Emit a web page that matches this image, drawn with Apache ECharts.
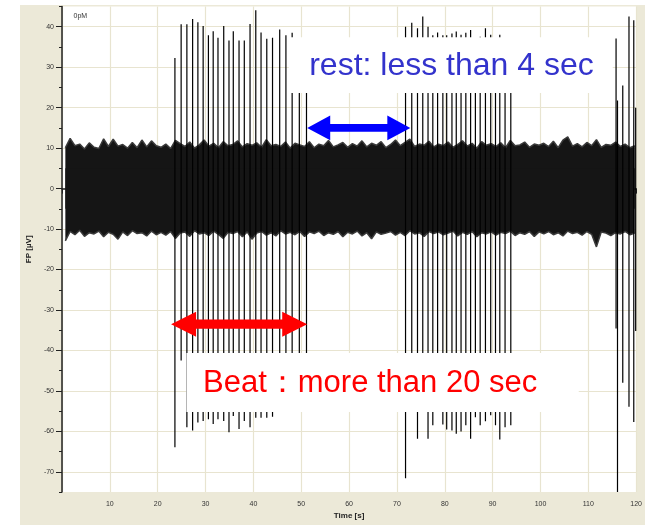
<!DOCTYPE html>
<html>
<head>
<meta charset="utf-8">
<script src="https://cdn.jsdelivr.net/npm/echarts@6/dist/echarts.min.js"></script>
<style>
  html, body { margin: 0; padding: 0; background: #fff; }
  #frame { position: absolute; left: 20px; top: 5px; width: 625px; height: 520px; background: #ece9d8; }
  #chart { position: absolute; left: 0; top: 0; width: 645px; height: 525px; }
</style>
</head>
<body>
<div id="frame"></div>
<div id="chart"></div>
<script>
// axis ticks
const fpTicks = [-70, -60, -50, -40, -30, -20, -10, 0, 10, 20, 30, 40];

// noise band envelope [µV], one reading per second starting at 0.7 s
const noiseStart = 0.7;
const noiseTop = [
  10.1, 12.4, 10.6, 11.0, 9.8, 11.3, 10.2, 9.9, 12.3, 10.4,
  12.2, 10.5, 10.9, 10.0, 11.4, 10.1, 12.0, 10.3, 11.8, 10.6,
  10.2, 11.0, 9.9, 11.9, 11.1, 10.4, 11.5, 10.0, 10.8, 12.0,
  10.5, 11.2, 10.1, 11.6, 10.6, 10.9, 11.8, 10.3, 11.1, 10.7,
  11.3, 10.2, 12.1, 10.6, 10.9, 10.4, 11.5, 10.0, 11.2, 10.8,
  10.4, 11.6, 10.1, 11.0, 10.6, 11.9, 10.3, 10.8, 11.4, 10.2,
  11.1, 10.5, 11.8, 10.3, 11.2, 10.7, 11.6, 10.1, 10.9, 12.0,
  10.6, 11.4, 12.2, 10.4, 11.0, 10.7, 11.7, 10.3, 11.0, 10.6,
  11.5, 10.2, 10.9, 11.8, 10.5, 11.2, 10.0, 11.6, 10.7, 11.1,
  10.4, 11.3, 10.1, 11.9, 10.6, 10.8, 11.5, 10.2, 11.0, 10.7,
  11.2, 10.4, 11.7, 10.1, 12.0, 12.8, 10.5, 11.1, 10.3, 11.4,
  10.6, 12.1, 10.2, 10.9, 10.7, 11.5, 10.4, 11.0, 10.1, 10.6
];
const noiseBottom = [
  -12.9, -10.6, -11.4, -10.3, -11.8, -10.9, -11.2, -10.5, -11.9, -10.8,
  -11.3, -12.5, -10.7, -11.6, -10.4, -11.1, -10.9, -11.7, -10.5, -11.4,
  -10.8, -11.5, -10.6, -12.3, -11.0, -10.7, -11.8, -10.4, -11.2, -10.9,
  -11.6, -10.5, -11.3, -12.3, -10.8, -11.1, -10.6, -11.9, -10.7, -12.5,
  -11.0, -10.6, -11.5, -10.9, -11.7, -10.4, -11.2, -10.8, -11.4, -10.6,
  -11.8, -10.7, -11.1, -10.5, -11.6, -10.9, -11.3, -10.6, -11.9, -10.8,
  -11.2, -10.5, -11.7, -10.9, -12.4, -10.7, -11.3, -11.0, -10.6, -11.5,
  -10.8, -11.6, -10.4, -11.2, -10.9, -11.8, -10.6, -11.1, -10.7, -11.4,
  -11.0, -10.5, -11.7, -10.8, -11.3, -10.6, -11.9, -10.9, -11.2, -10.7,
  -11.5, -10.8, -11.1, -10.5, -11.6, -10.9, -11.3, -10.6, -11.8, -10.7,
  -11.2, -10.6, -11.4, -10.9, -11.7, -10.5, -11.1, -10.8, -11.5, -10.6,
  -11.3, -14.4, -10.7, -11.0, -11.6, -10.9, -11.2, -10.6, -11.4, -11.0
];

// beats: time [s], positive peak and negative peak [µV]
const spikeTime = [
  23.6, 24.9, 26.1, 27.3, 28.4, 29.5, 30.6, 31.6, 32.6, 33.8, 34.9, 35.8,
  37.0, 38.1, 39.3, 40.5, 41.6, 42.8, 44.0, 45.5, 46.8, 48.1, 49.6, 51.1,
  71.8, 73.1, 74.3, 75.4, 76.5, 77.5, 78.5, 79.6, 80.4, 81.5, 82.4, 83.4,
  84.4, 85.4, 86.4, 87.4, 88.5, 89.6, 90.6, 91.5, 92.6, 93.8,
  115.8, 116.1, 117.2, 118.5, 119.5, 119.9
];
const spikeHigh = [
  32.3, 40.6, 40.6, 41.9, 41.1, 40.2, 37.9, 38.9, 37.3, 40.2, 36.6, 38.9,
  36.6, 36.6, 40.7, 44.1, 38.6, 37.0, 37.3, 39.3, 37.9, 38.5, 36.0, 36.0,
  40.0, 41.0, 39.6, 42.5, 40.0, 37.9, 38.6, 37.9, 37.9, 38.3, 38.8, 38.0,
  38.5, 39.2, 37.0, 37.5, 39.6, 38.0, 37.0, 38.0, 36.0, 36.0,
  37.1, 21.8, 25.5, 42.5, 41.6, 20.0
];
const spikeLow = [
  -63.9, -42.5, -59.0, -59.8, -57.8, -57.4, -57.0, -58.2, -57.0, -57.4, -60.2, -56.2,
  -59.4, -57.4, -59.0, -56.6, -56.6, -56.6, -56.4, -50.0, -50.0, -50.0, -50.0, -50.0,
  -71.6, -52.0, -61.8, -53.0, -61.8, -58.5, -52.0, -58.3, -59.5, -59.8, -60.6, -60.0,
  -58.5, -61.8, -56.5, -58.5, -57.5, -56.0, -58.5, -62.0, -59.0, -58.5,
  -34.6, -75.0, -48.0, -53.9, -57.7, -35.2
];

const concentrationLabel = '0pM';
const restLabel = 'rest: less than 4 sec';
const beatLabel = 'Beat：more than 20 sec';

const font = "'Liberation Sans', Arial, sans-serif";
const gridColor = '#e8e4d0';

const topData = noiseTop.map((v, i) => [noiseStart + i, v]);
const bottomData = noiseBottom.map((v, i) => [noiseStart + i, v]);
const spikeData = spikeTime.map((t, i) => [t, spikeHigh[i], spikeLow[i]]);

const chart = echarts.init(document.getElementById('chart'), null, { renderer: 'canvas' });

chart.setOption({
  animation: false,
  backgroundColor: 'transparent',
  grid: { left: 62, right: 7, top: 6.5, bottom: 32, show: true, backgroundColor: '#fff', borderWidth: 0 },
  xAxis: {
    type: 'value', min: 0, max: 120, interval: 10,
    name: 'Time [s]', nameLocation: 'middle', nameGap: 19,
    nameTextStyle: { fontFamily: font, fontSize: 8, fontWeight: 'bold', color: '#222' },
    axisLine: { lineStyle: { color: '#222', width: 1.5 } },
    axisTick: { length: 5, lineStyle: { color: '#222' } },
    minorTick: { show: true, splitNumber: 2, length: 3, lineStyle: { color: '#222' } },
    axisLabel: {
      fontFamily: font, fontSize: 7, color: '#333', margin: 8,
      formatter: v => (v === 0 ? '' : String(v))
    },
    splitLine: { show: true, lineStyle: { color: gridColor, width: 1.2 } }
  },
  yAxis: [
    {
      type: 'value', min: -75, max: 45,
      name: 'FP [µV]', nameLocation: 'middle', nameGap: 28,
      nameTextStyle: { fontFamily: font, fontSize: 8, fontWeight: 'bold', color: '#222' },
      axisLine: { show: true, lineStyle: { color: '#222', width: 1.5 } },
      axisTick: { show: true, length: 6, customValues: fpTicks, lineStyle: { color: '#222' } },
      axisLabel: { fontFamily: font, fontSize: 7, color: '#333', margin: 8, customValues: fpTicks },
      splitLine: { show: true, customValues: fpTicks, lineStyle: { color: gridColor, width: 1.2 } }
    },
    {
      type: 'value', min: -75, max: 45, interval: 5, position: 'left',
      axisLine: { show: false },
      axisTick: { show: true, length: 3, lineStyle: { color: '#222' } },
      axisLabel: { show: false },
      splitLine: { show: false }
    }
  ],
  series: [
    {
      type: 'line', data: topData, symbol: 'none', z: 2,
      lineStyle: { color: '#3a3a3a', width: 1.5 },
      areaStyle: { color: '#151515', opacity: 1, origin: -5 }
    },
    {
      type: 'line', data: bottomData, symbol: 'none', z: 2,
      lineStyle: { color: '#3a3a3a', width: 1.5 },
      areaStyle: { color: '#151515', opacity: 1, origin: 5 }
    },
    {
      type: 'custom', data: spikeData, z: 3,
      encode: { x: 0, y: [1, 2] },
      renderItem: function (params, api) {
        const top = api.coord([api.value(0), api.value(1)]);
        const bottom = api.coord([api.value(0), api.value(2)]);
        return {
          type: 'line',
          shape: { x1: top[0], y1: top[1], x2: bottom[0], y2: bottom[1] },
          style: { stroke: '#000', lineWidth: 1.2 }
        };
      }
    }
  ]
});

// annotations, anchored in data space
function px(t, v) {
  return chart.convertToPixel({ xAxisIndex: 0, yAxisIndex: 0 }, [t, v]);
}

function box(t1, v1, t2, v2) {
  const a = px(t1, v1), b = px(t2, v2);
  return {
    type: 'rect', z: 100,
    shape: { x: a[0], y: a[1], width: b[0] - a[0], height: b[1] - a[1] },
    style: { fill: '#fff' }
  };
}

function arrow(t1, t2, v, color, head, half, shaft) {
  const a = px(t1, v), b = px(t2, v);
  const x1 = a[0], x2 = b[0], y = a[1];
  return {
    type: 'polygon', z: 101,
    shape: {
      points: [
        [x1, y], [x1 + head, y - half], [x1 + head, y - shaft], [x2 - head, y - shaft],
        [x2 - head, y - half], [x2, y], [x2 - head, y + half], [x2 - head, y + shaft],
        [x1 + head, y + shaft], [x1 + head, y + half]
      ]
    },
    style: { fill: color }
  };
}

function label(t, v, text, color, size, align) {
  const p = px(t, v);
  return {
    type: 'text', z: 102, x: p[0], y: p[1],
    style: { text: text, fill: color, font: size + 'px ' + font, align: align, verticalAlign: 'middle' }
  };
}

chart.setOption({
  graphic: [
    box(47.4, 37.4, 115.1, 23.6),
    box(26.0, -40.6, 108.0, -55.2),
    arrow(51.25, 72.8, 15, '#0000ff', 23, 12.3, 3.8),
    arrow(22.8, 51.25, -33.5, '#ff0000', 25, 12.5, 4.6),
    label(81.4, 30.2, restLabel, '#3333cc', 32, 'center'),
    label(64.4, -48.2, beatLabel, '#ff0000', 31, 'center'),
    label(2.4, 42.7, concentrationLabel, '#333', 7, 'left')
  ]
});
</script>
</body>
</html>
